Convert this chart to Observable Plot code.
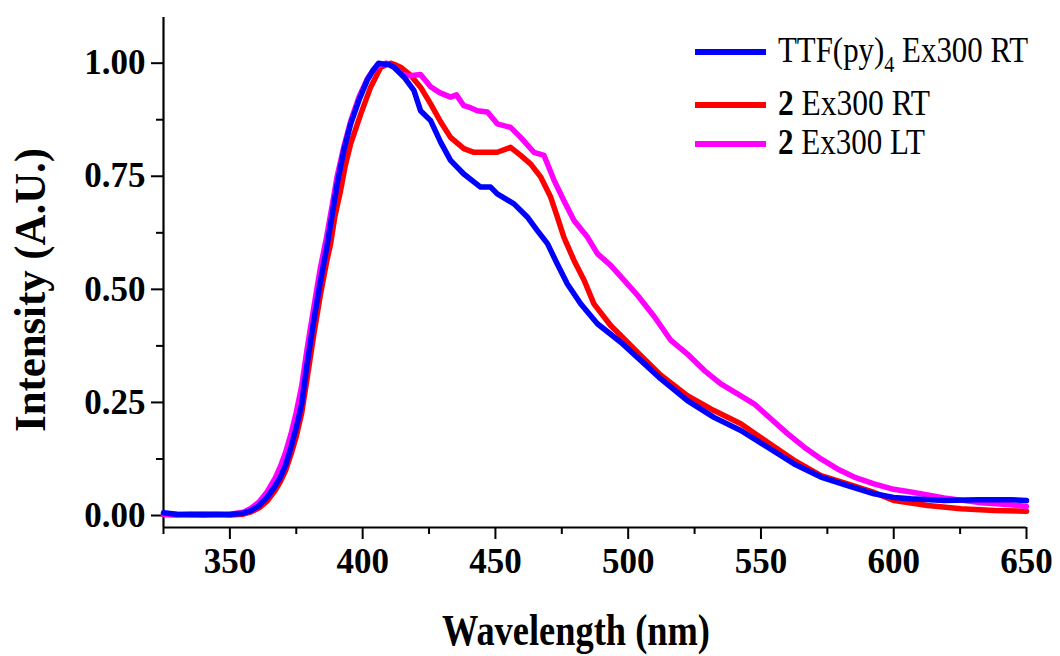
<!DOCTYPE html>
<html>
<head>
<meta charset="utf-8">
<script src="https://cdn.jsdelivr.net/npm/d3@7"></script>
<script src="https://cdn.jsdelivr.net/npm/@observablehq/plot@0.6"></script>
<style>
  html, body { margin: 0; padding: 0; background: #fff; }
  #chart svg { display: block; }
  #chart svg text { font-family: "Liberation Serif", "Times New Roman", serif; }
</style>
</head>
<body>
<div id="chart"></div>
<script>
// ---- data ----
const seriesNames = ["TTF(py)4 Ex300 RT", "2 Ex300 RT", "2 Ex300 LT"];
const seriesColors = ["#0000ff", "#ff0000", "#ff00ff"];

const wlBlue = [325, 330, 335, 340, 345, 350, 355, 358, 361, 364, 367, 369, 371, 373, 375, 377, 379, 381.6, 384, 386.4, 388.5, 390.4, 392.9, 395.5, 398.6, 401.7, 404, 406, 408, 410, 412, 415.6, 419.3, 421.8, 425.6, 429.4, 433.1, 438.1, 444.4, 448.2, 450.7, 457, 462, 465.8, 469.6, 473.3, 477.1, 482.1, 488.4, 497.2, 504.7, 512.3, 522.3, 532.3, 542.4, 552.5, 562.5, 572.6, 582.6, 592.6, 600, 606.5, 619, 631.6, 644, 650];
const intBlue = [0.006, 0.003, 0.002, 0.003, 0.002, 0.002, 0.005, 0.011, 0.022, 0.040, 0.065, 0.085, 0.112, 0.151, 0.195, 0.245, 0.332, 0.431, 0.515, 0.590, 0.665, 0.733, 0.807, 0.866, 0.918, 0.962, 0.985, 1.0, 0.998, 0.997, 0.990, 0.969, 0.940, 0.895, 0.873, 0.825, 0.785, 0.755, 0.726, 0.726, 0.711, 0.689, 0.660, 0.630, 0.601, 0.556, 0.512, 0.468, 0.424, 0.383, 0.343, 0.302, 0.254, 0.217, 0.188, 0.151, 0.114, 0.085, 0.066, 0.048, 0.040, 0.037, 0.033, 0.035, 0.035, 0.033];

const wlRed = [325, 330, 335, 340, 345, 350, 355, 358, 361, 364, 367, 369, 371, 373, 375, 377, 379, 381.6, 384, 386.4, 387.9, 389.5, 391.7, 393.5, 395.5, 399.3, 403, 406.8, 410.5, 412, 414.3, 418.1, 421.8, 425.6, 429.4, 433.1, 438.1, 441.9, 445.7, 450.7, 455.7, 459.5, 463.3, 467.1, 470.8, 473.3, 475.8, 479.6, 483.4, 487.1, 493.4, 497.2, 504.7, 512.3, 522.3, 532.3, 542.4, 552.5, 562.5, 572.6, 582.6, 592.6, 600.2, 612.8, 625.3, 637.9, 650];
const intRed = [0.002, 0.001, 0.002, 0.001, 0.002, 0.001, 0.003, 0.008, 0.017, 0.032, 0.055, 0.075, 0.100, 0.135, 0.175, 0.225, 0.300, 0.400, 0.485, 0.560, 0.600, 0.660, 0.719, 0.775, 0.822, 0.888, 0.947, 0.991, 1.0, 0.997, 0.991, 0.973, 0.947, 0.910, 0.870, 0.836, 0.811, 0.803, 0.803, 0.803, 0.814, 0.796, 0.777, 0.748, 0.704, 0.660, 0.615, 0.564, 0.520, 0.468, 0.420, 0.398, 0.354, 0.310, 0.265, 0.232, 0.203, 0.162, 0.122, 0.088, 0.070, 0.051, 0.033, 0.022, 0.015, 0.011, 0.0095];

const wlMag = [325, 330, 335, 340, 345, 350, 355, 358, 361, 364, 367, 369, 371, 373, 375, 377, 379, 381.6, 384, 386.4, 388.5, 390.4, 392.9, 395.5, 398.6, 401.7, 404, 406, 409, 412, 415, 418, 421.8, 425.6, 429, 433.1, 435.3, 438.1, 440, 443.2, 447, 450.7, 455.7, 459.5, 464.5, 468.3, 472.1, 475.8, 479.6, 484.7, 488.4, 493.4, 498.5, 503.5, 509.8, 516.1, 522.3, 528.6, 534.9, 541.2, 547.4, 553.7, 560, 566.3, 572.6, 578.8, 585.1, 592.6, 600, 606.5, 619, 631.6, 644, 650];
const intMag = [0.003, 0.002, 0.003, 0.002, 0.003, 0.003, 0.007, 0.016, 0.030, 0.052, 0.082, 0.108, 0.140, 0.180, 0.228, 0.285, 0.365, 0.460, 0.545, 0.615, 0.685, 0.750, 0.815, 0.872, 0.925, 0.965, 0.985, 0.995, 1.0, 0.990, 0.975, 0.972, 0.975, 0.948, 0.935, 0.925, 0.930, 0.906, 0.903, 0.895, 0.892, 0.866, 0.858, 0.836, 0.803, 0.796, 0.741, 0.696, 0.652, 0.615, 0.579, 0.553, 0.520, 0.487, 0.440, 0.387, 0.357, 0.321, 0.291, 0.269, 0.247, 0.214, 0.181, 0.151, 0.125, 0.103, 0.085, 0.070, 0.058, 0.052, 0.039, 0.029, 0.024, 0.020];

const xMajorTicks = [350, 400, 450, 500, 550, 600, 650];
const xMinorTicks = [325, 375, 425, 475, 525, 575, 625];
const yMajorTicks = [0, 0.25, 0.5, 0.75, 1.0];
const yMinorTicks = [0.125, 0.375, 0.625, 0.875];
const xDomain = [325, 650];
const yDomain = [-0.0265, 1.101];

// ---- build table ----
const rows = [];
[[wlRed, intRed, 1], [wlMag, intMag, 2], [wlBlue, intBlue, 0]].forEach(([w, v, i]) => {
  w.forEach((x, k) => rows.push({wl: x, val: v[k], s: seriesNames[i]}));
});

const chart = Plot.plot({
  width: 1060,
  height: 656,
  marginLeft: 163,
  marginRight: 34,
  marginTop: 17,
  marginBottom: 129,
  style: {fontFamily: "Liberation Serif", background: "#fff", color: "#000"},
  x: {domain: xDomain},
  y: {domain: yDomain},
  color: {domain: seriesNames, range: seriesColors},
  marks: [
    Plot.axisX(xMajorTicks, {tickSize: 12, tickPadding: 9, strokeWidth: 2, fontSize: 35, fontWeight: "bold", label: null, tickFormat: d => String(d)}),
    Plot.axisX(xMinorTicks, {tickSize: 7, strokeWidth: 2, tickFormat: () => "", label: null}),
    Plot.axisY(yMajorTicks, {tickSize: 12, tickPadding: 6, strokeWidth: 2, fontSize: 35, fontWeight: "bold", label: null, tickFormat: d3.format(".2f")}),
    Plot.axisY(yMinorTicks, {tickSize: 7, strokeWidth: 2, tickFormat: () => "", label: null}),
    Plot.ruleX([xDomain[0]], {stroke: "#000", strokeWidth: 2.2}),
    Plot.ruleY([yDomain[0]], {stroke: "#000", strokeWidth: 2.2}),
    Plot.line(rows, {x: "wl", y: "val", z: "s", stroke: "s", strokeWidth: 5.5, strokeLinejoin: "round", strokeLinecap: "round", curve: "linear"})
  ]
});

document.getElementById("chart").appendChild(chart);

// ---- titles and legend ----
const svg = d3.select(chart);
svg.append("text")
  .attr("x", 576).attr("y", 645)
  .attr("text-anchor", "middle")
  .attr("font-size", 44).attr("font-weight", "bold")
  .attr("textLength", 268).attr("lengthAdjust", "spacingAndGlyphs")
  .attr("fill", "#000")
  .text("Wavelength (nm)");

svg.append("text")
  .attr("transform", "translate(45,290) rotate(-90)")
  .attr("text-anchor", "middle")
  .attr("font-size", 44).attr("font-weight", "bold")
  .attr("textLength", 284).attr("lengthAdjust", "spacingAndGlyphs")
  .attr("fill", "#000")
  .text("Intensity (A.U.)");

const legendY = [52, 105, 144];
const legendWidths = [250, 152, 147];
const legend = svg.append("g").attr("fill", "#000").attr("font-size", 35).attr("text-anchor", "start");
seriesNames.forEach((name, i) => {
  legend.append("line")
    .attr("x1", 695).attr("x2", 766)
    .attr("y1", legendY[i]).attr("y2", legendY[i])
    .attr("stroke", seriesColors[i]).attr("stroke-width", 6);
  const t = legend.append("text")
    .attr("x", 778).attr("y", legendY[i] + 9.5)
    .attr("text-anchor", "start")
    .attr("textLength", legendWidths[i]).attr("lengthAdjust", "spacingAndGlyphs");
  if (i === 0) {
    t.append("tspan").text("TTF(py)");
    t.append("tspan").attr("font-size", 23).attr("dy", 10).text("4");
    t.append("tspan").attr("dy", -10).text(" Ex300 RT");
  } else {
    t.append("tspan").attr("font-weight", "bold").text("2");
    t.append("tspan").text(name.slice(1));
  }
});
</script>
</body>
</html>
